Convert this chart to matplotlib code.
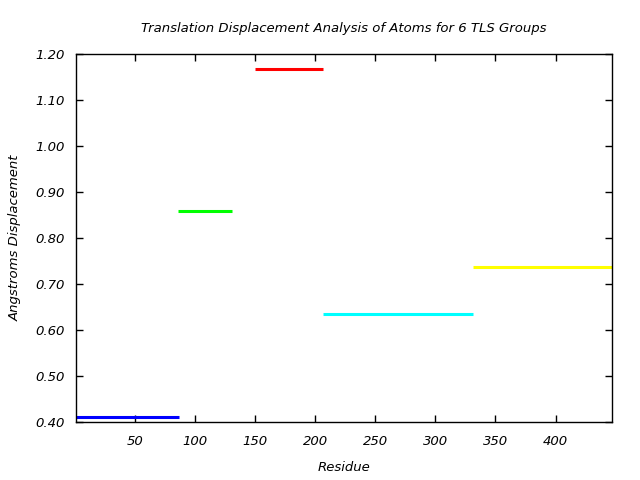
import matplotlib.pyplot as plt
from matplotlib.ticker import FormatStrFormatter

# TLS group segments: residue range and displacement
seg_start = [1, 86, 150, 206.5, 331]
seg_end = [86.5, 131, 206.5, 331, 447]
displacement = [0.410, 0.858, 1.167, 0.634, 0.736]
colors = ['#0000ff', '#00ff00', '#ff0000', '#00ffff', '#ffff00']

fig = plt.figure(figsize=(6.4, 4.8), dpi=100)
ax = fig.add_axes([0.11875, 0.1208, 0.8375, 0.7667])

for x0, x1, y, c in zip(seg_start, seg_end, displacement, colors):
    ax.plot([x0, x1], [y, y], color=c, lw=2.2, solid_capstyle='butt')

ax.set_xlim(1, 447)
ax.set_ylim(0.40, 1.20)
ax.set_xticks([50, 100, 150, 200, 250, 300, 350, 400])
ax.set_yticks([0.40, 0.50, 0.60, 0.70, 0.80, 0.90, 1.00, 1.10, 1.20])
ax.yaxis.set_major_formatter(FormatStrFormatter('%.2f'))
ax.tick_params(direction='in', top=True, right=True, length=5, width=1,
               labelsize=9.5, pad=8)
ax.tick_params(axis='x', pad=9)
for lab in ax.get_xticklabels() + ax.get_yticklabels():
    lab.set_fontstyle('italic')
for s in ax.spines.values():
    s.set_linewidth(1)

ax.set_title('Translation Displacement Analysis of Atoms for 6 TLS Groups',
             fontsize=9.5, style='italic', pad=16)
ax.set_xlabel('Residue', fontsize=9.5, style='italic', labelpad=10)
ax.set_ylabel('Angstroms Displacement', fontsize=9.5, style='italic', labelpad=10)

fig.savefig('out.png', dpi=100)
